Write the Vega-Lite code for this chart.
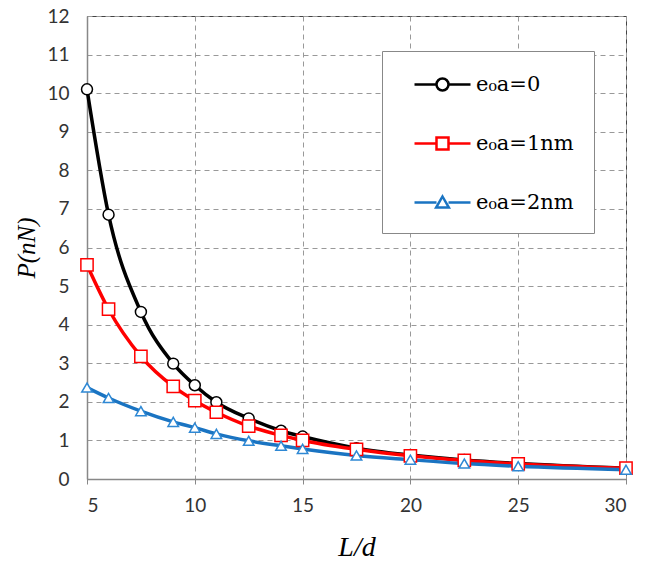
{
  "$schema": "https://vega.github.io/schema/vega-lite/v6.json",
  "width": 539,
  "height": 463,
  "autosize": "none",
  "padding": {"left": 87, "top": 16, "right": 25, "bottom": 82},
  "background": "white",
  "config": {"view": {"stroke": "#444", "strokeWidth": 1}, "legend": {"labelFont": "DejaVu Serif", "labelFontSize": 21}},
  "data": {"values": [
    {"x": 5, "P": 10.1, "s": "e₀a=0"},
    {"x": 6, "P": 6.85, "s": "e₀a=0"},
    {"x": 7.5, "P": 4.33, "s": "e₀a=0"},
    {"x": 9, "P": 2.99, "s": "e₀a=0"},
    {"x": 10, "P": 2.43, "s": "e₀a=0"},
    {"x": 11, "P": 1.99, "s": "e₀a=0"},
    {"x": 12.5, "P": 1.57, "s": "e₀a=0"},
    {"x": 14, "P": 1.25, "s": "e₀a=0"},
    {"x": 15, "P": 1.1, "s": "e₀a=0"},
    {"x": 17.5, "P": 0.8, "s": "e₀a=0"},
    {"x": 20, "P": 0.62, "s": "e₀a=0"},
    {"x": 22.5, "P": 0.49, "s": "e₀a=0"},
    {"x": 25, "P": 0.4, "s": "e₀a=0"},
    {"x": 30, "P": 0.28, "s": "e₀a=0"},
    {"x": 5, "P": 5.55, "s": "e₀a=1nm"},
    {"x": 6, "P": 4.4, "s": "e₀a=1nm"},
    {"x": 7.5, "P": 3.18, "s": "e₀a=1nm"},
    {"x": 9, "P": 2.4, "s": "e₀a=1nm"},
    {"x": 10, "P": 2.03, "s": "e₀a=1nm"},
    {"x": 11, "P": 1.73, "s": "e₀a=1nm"},
    {"x": 12.5, "P": 1.37, "s": "e₀a=1nm"},
    {"x": 14, "P": 1.13, "s": "e₀a=1nm"},
    {"x": 15, "P": 1.0, "s": "e₀a=1nm"},
    {"x": 17.5, "P": 0.77, "s": "e₀a=1nm"},
    {"x": 20, "P": 0.6, "s": "e₀a=1nm"},
    {"x": 22.5, "P": 0.48, "s": "e₀a=1nm"},
    {"x": 25, "P": 0.39, "s": "e₀a=1nm"},
    {"x": 30, "P": 0.28, "s": "e₀a=1nm"},
    {"x": 5, "P": 2.37, "s": "e₀a=2nm"},
    {"x": 6, "P": 2.1, "s": "e₀a=2nm"},
    {"x": 7.5, "P": 1.76, "s": "e₀a=2nm"},
    {"x": 9, "P": 1.48, "s": "e₀a=2nm"},
    {"x": 10, "P": 1.33, "s": "e₀a=2nm"},
    {"x": 11, "P": 1.17, "s": "e₀a=2nm"},
    {"x": 12.5, "P": 0.99, "s": "e₀a=2nm"},
    {"x": 14, "P": 0.86, "s": "e₀a=2nm"},
    {"x": 15, "P": 0.78, "s": "e₀a=2nm"},
    {"x": 17.5, "P": 0.61, "s": "e₀a=2nm"},
    {"x": 20, "P": 0.5, "s": "e₀a=2nm"},
    {"x": 22.5, "P": 0.4, "s": "e₀a=2nm"},
    {"x": 25, "P": 0.33, "s": "e₀a=2nm"},
    {"x": 30, "P": 0.24, "s": "e₀a=2nm"}
  ]},
  "encoding": {
    "x": {"field": "x", "type": "quantitative",
      "scale": {"domain": [5, 30], "nice": false, "zero": false},
      "axis": {"values": [5, 10, 15, 20, 25, 30], "title": "L/d",
        "titleFont": "Liberation Serif", "titleFontStyle": "italic", "titleFontWeight": "normal", "titleFontSize": 28, "titleColor": "#000", "titlePadding": 18,
        "labelFont": "Lato", "labelFontSize": 19, "labelColor": "#333", "labelPadding": 12,
        "ticks": true, "tickSize": 5, "tickColor": "#888", "domainColor": "#888", "domainWidth": 1.5,
        "grid": true, "gridColor": "#999", "gridDash": [5, 4], "gridWidth": 1}},
    "y": {"field": "P", "type": "quantitative",
      "scale": {"domain": [0, 12], "nice": false},
      "axis": {"values": [0,1,2,3,4,5,6,7,8,9,10,11,12], "title": "P(nN)",
        "titleFont": "Liberation Serif", "titleFontStyle": "italic", "titleFontWeight": "normal", "titleFontSize": 25, "titleColor": "#000", "titlePadding": 7,
        "labelFont": "Lato", "labelFontSize": 19, "labelColor": "#333", "labelPadding": 18,
        "ticks": false, "domainColor": "#888", "domainWidth": 1.5,
        "grid": true, "gridColor": "#999", "gridDash": [5, 4], "gridWidth": 1}}
  },
  "layer": [
    {"mark": {"type": "line", "interpolate": "monotone", "strokeWidth": 3.5},
     "encoding": {
       "color": {"field": "s", "type": "nominal",
         "scale": {"domain": ["e₀a=0", "e₀a=1nm", "e₀a=2nm"], "range": ["#000000", "#ff0000", "#1a74c2"]},
         "legend": {"orient": "none", "legendX": 295, "legendY": 35, "title": null,
           "fillColor": "white", "strokeColor": "#888", "padding": 20, "rowPadding": 34,
           "labelFont": "DejaVu Serif", "labelFontSize": 21, "labelColor": "#000", "labelOffset": 47,
           "symbolSize": 576, "symbolStrokeWidth": 2.5,
           "encode": {
             "symbols": {"update": {
             "fill": {"value": "white"},
             "shape": {"signal": "datum.value === 'e₀a=0' ? 'M-0.083,0L1.75,0M2.75,0L4.583,0M2.75,0A0.5,0.5 0 1,1 1.75,0A0.5,0.5 0 1,1 2.75,0Z' : datum.value === 'e₀a=1nm' ? 'M-0.083,0L1.75,0M2.75,0L4.583,0M1.75,-0.5L2.75,-0.5L2.75,0.5L1.75,0.5Z' : 'M-0.083,0L1.75,0M2.75,0L4.583,0M2.25,-0.5L2.78,0.42L1.72,0.42Z'"}
           }}}
         }}
     }},
    {"transform": [{"filter": "datum.s === 'e₀a=0'"}],
     "mark": {"type": "point", "shape": "circle", "size": 120, "filled": true, "fill": "white", "stroke": "#000000", "strokeWidth": 1.5, "opacity": 1}},
    {"transform": [{"filter": "datum.s === 'e₀a=1nm'"}],
     "mark": {"type": "point", "shape": "square", "size": 150, "filled": true, "fill": "white", "stroke": "#ff0000", "strokeWidth": 1.5, "opacity": 1}},
    {"transform": [{"filter": "datum.s === 'e₀a=2nm'"}],
     "mark": {"type": "point", "shape": "triangle-up", "size": 110, "filled": true, "fill": "white", "stroke": "#2e88d4", "strokeWidth": 1.5, "opacity": 1}}
  ]
}
